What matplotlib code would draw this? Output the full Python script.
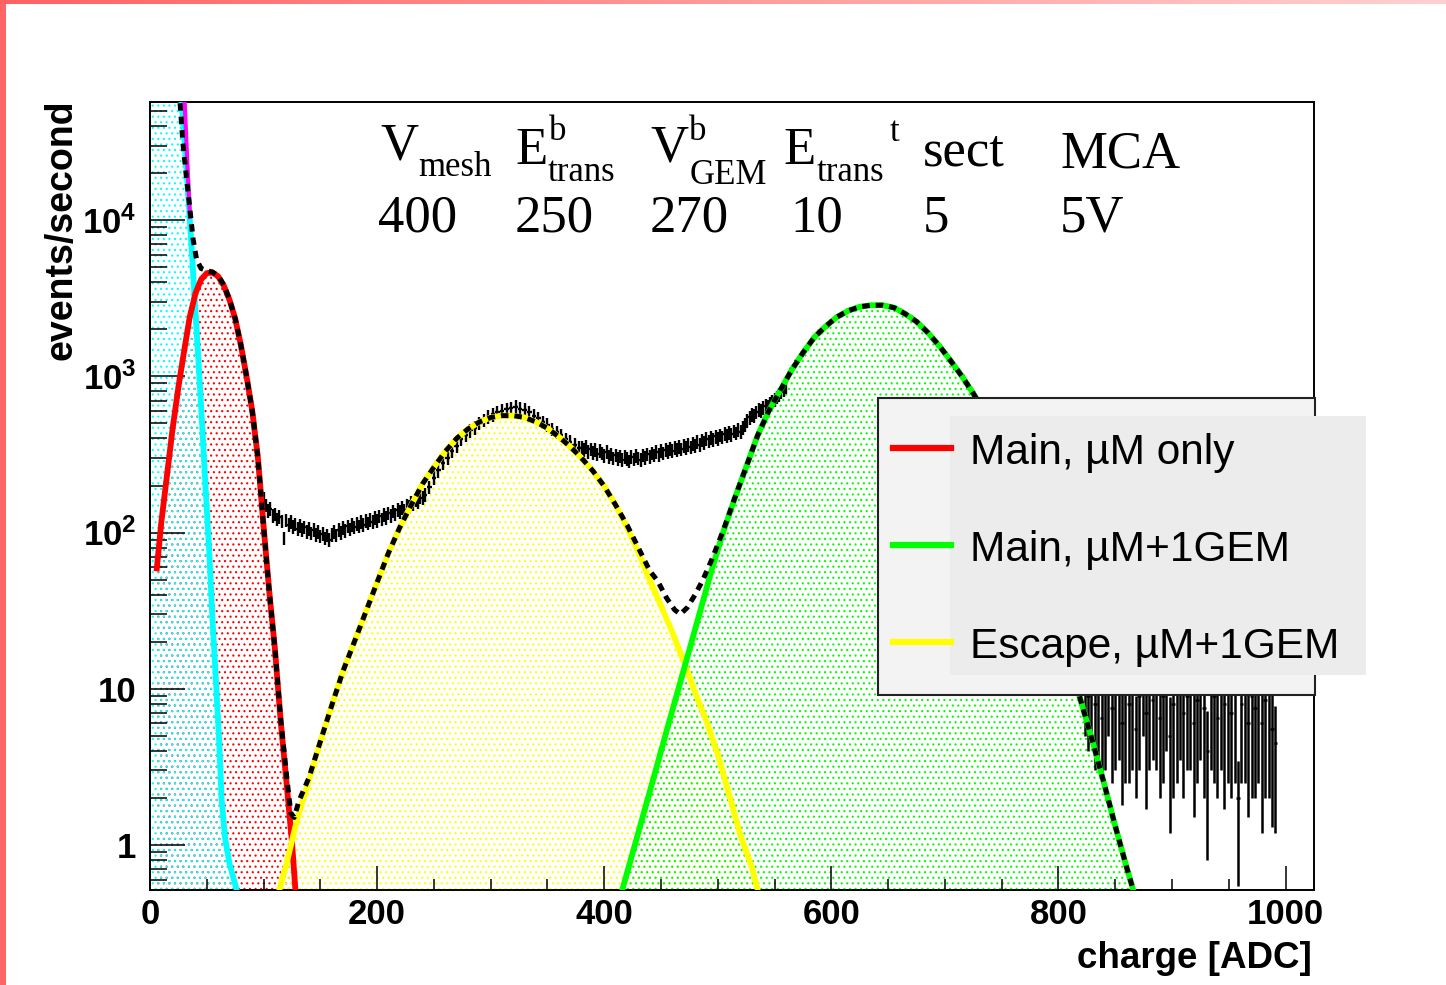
import numpy as np
import matplotlib
matplotlib.use("Agg")
import matplotlib.pyplot as plt
from matplotlib.patches import Rectangle
from matplotlib.lines import Line2D
from matplotlib.ticker import MultipleLocator, LogLocator, NullFormatter
from matplotlib.colors import LinearSegmentedColormap

plt.rcParams["font.family"] = ["Liberation Sans", "DejaVu Sans"]
plt.rcParams["mathtext.fontset"] = "custom"
plt.rcParams["mathtext.bf"] = "Liberation Sans:bold"
plt.rcParams["mathtext.rm"] = "Liberation Sans"
plt.rcParams["hatch.linewidth"] = 0.8

W, H = 1446, 985

# fit components (charge [ADC], events/second)
cyan_x = [0, 10, 20, 28, 31, 34, 37, 40, 43, 46, 49, 52, 55, 58, 61, 63, 66, 70, 76.5]
cyan_y = [2e8, 1e7, 5e5, 53700, 28200, 13200, 6030, 2630, 1150, 479, 190, 80, 28, 11.5, 4.5, 2.0, 1.12, 0.76, 0.51]

mag_x = [30.5, 33, 35.2]
mag_y = [57000, 22000, 10500]

red_x = [6, 10, 15, 20, 25, 30, 35, 40, 45, 50, 55, 60, 65, 70, 75, 80, 85, 90, 95,
         100, 105, 110, 115, 120, 125, 128]
red_y = [59, 117, 234, 468, 851, 1445, 2400, 3390, 4170, 4570, 4620, 4365, 3800, 3090,
         2340, 1585, 1000, 603, 302, 110, 42, 18, 6.3, 2.6, 1.05, 0.52]

yellow_x = [114, 120, 130, 140, 150, 160, 170, 180, 190, 200, 210, 220, 230, 240, 250,
            260, 270, 280, 290, 300, 310, 320, 330, 340, 350, 360, 370, 380, 390, 400,
            410, 420, 430, 440, 450, 460, 470, 480, 490, 500, 510, 520, 530, 535]
yellow_y = [0.52, 0.75, 1.5, 2.6, 4.6, 7.8, 13, 20, 31, 48, 74, 108, 150, 205, 262,
            330, 400, 460, 510, 545, 560, 560, 545, 510, 465, 410, 355, 300, 248, 198,
            150, 108, 75, 50, 34, 23, 15, 9.5, 6.2, 3.8, 2.1, 1.15, 0.72, 0.52]

green_x = [416, 425, 435, 445, 455, 465, 475, 485, 495, 505, 515, 525, 535, 545, 555,
           565, 575, 585, 595, 605, 615, 625, 635, 645, 655, 665, 675, 685, 695, 705,
           715, 725, 735, 745, 760, 780, 800, 819, 830, 840, 850, 860, 866]
green_y = [0.52, 0.89, 1.62, 2.95, 5.4, 9.8, 17.8, 32.4, 58.9, 102, 166, 263, 417, 603,
           813, 1096, 1413, 1778, 2089, 2399, 2630, 2786, 2851, 2851, 2754, 2512, 2239,
           1905, 1567, 1259, 1000, 776, 589, 417, 229, 91, 28, 8.7, 4.6, 2.5, 1.32, 0.72, 0.51]

total_x = [26.5, 29, 32, 35, 38, 41, 45, 50, 55, 60, 65, 70, 75, 80, 85, 90, 95, 100,
           105, 110, 115, 120, 124, 127, 131, 140, 150, 160, 170, 180, 190, 200, 210,
           220, 230, 240, 250, 260, 270, 280, 290, 300, 310, 320, 330, 340, 350, 360,
           370, 380, 390, 400, 410, 420, 430, 440, 447, 455, 462, 467, 473, 480, 487,
           495, 505, 515, 525, 535, 545, 555, 565, 575, 585, 595, 605, 615, 625, 635,
           645, 655, 665, 675, 685, 695, 705, 715, 725, 735, 745, 760, 780, 800, 819,
           830, 840, 850, 860, 866]
total_y = [56000, 31000, 19000, 12000, 7500, 5600, 4900, 4750, 4650, 4400, 3850, 3100,
           2350, 1590, 1000, 605, 303, 110, 42, 18, 6.5, 2.9, 1.6, 1.5, 1.9, 2.7, 4.6,
           7.8, 13, 20, 31, 48, 74, 108, 150, 205, 262, 330, 400, 460, 510, 545, 560,
           560, 545, 510, 465, 410, 355, 300, 248, 198, 150, 112, 80, 57, 49, 38, 32,
           30, 33, 40, 50, 68, 104, 167, 263, 417, 603, 813, 1096, 1413, 1778, 2089,
           2399, 2630, 2786, 2851, 2851, 2754, 2512, 2239, 1905, 1567, 1259, 1000, 776,
           589, 417, 229, 91, 28, 8.7, 4.6, 2.5, 1.32, 0.72, 0.51]

# measured spectrum (data points with errors)
valley_x = np.arange(100, 242, 2)
valley_y = [165, 150, 138, 142, 128, 131, 122, 126, 118, 92, 120, 112, 117, 109, 113,
            106, 111, 104, 108, 101, 106, 99, 104, 97, 101, 95, 98, 92, 96, 90, 97, 101,
            96, 104, 100, 107, 103, 110, 105, 112, 108, 114, 110, 117, 112, 119, 115,
            121, 117, 124, 119, 127, 122, 130, 125, 133, 128, 137, 131, 140, 136, 144,
            139, 149, 146, 155, 152, 162, 158, 170, 167]

esc_x = np.arange(242, 380, 4)
esc_y = [175, 195, 225, 250, 280, 300, 335, 360, 395, 420, 450, 470, 500, 525, 550, 570,
         590, 600, 615, 625, 640, 620, 610, 590, 560, 540, 510, 490, 460, 440, 420, 395,
         380, 365, 350]

mid_x = np.arange(380, 562, 2)
mid_y = [350, 338, 355, 330, 342, 325, 340, 318, 333, 322, 310, 328, 305, 318, 300, 312,
         296, 308, 292, 305, 298, 287, 306, 295, 310, 300, 292, 312, 302, 318, 306, 322,
         312, 328, 316, 335, 322, 340, 328, 345, 333, 350, 338, 355, 342, 360, 348, 365,
         352, 372, 360, 380, 366, 390, 375, 398, 384, 405, 392, 412, 400, 420, 408, 428,
         416, 436, 425, 445, 432, 455, 442, 470, 490, 520, 545, 570, 560, 590, 610, 600,
         630, 650, 640, 670, 690, 710, 735, 760, 790, 820, 850]

peak_x = np.arange(565, 735, 5)
peak_y = [1110, 1260, 1400, 1590, 1760, 1950, 2080, 2260, 2400, 2520, 2640, 2700, 2790,
          2820, 2860, 2840, 2870, 2800, 2760, 2650, 2510, 2380, 2230, 2070, 1900, 1740,
          1560, 1420, 1260, 1120, 1000, 890, 780, 680]

tail_x = np.arange(823, 992, 3)
tail_y = [12, 9, 14, 8, 11, 6.5, 10, 13, 7.5, 9.5, 12, 6, 10, 8, 11, 5.5, 9, 13, 7, 10.5,
          8.5, 12, 6.5, 9, 11, 5, 8, 10, 13, 7, 9, 11.5, 6, 8.5, 10, 7.5, 4, 12, 9, 6.5,
          10, 8, 11, 7, 9.5, 2.0, 8, 10.5, 6, 9, 7.5, 12, 6, 8.5, 10, 5.5, 4.5]
tail_err = [7, 5, 9, 5, 7.5, 4, 7, 8, 5, 6.5, 8.5, 4.2, 7.5, 5.5, 8, 3.5, 6, 8, 5.3, 7.5,
            5, 9, 4.5, 6.5, 7, 3.8, 6, 7.5, 9.5, 5, 6, 8.5, 4.5, 6, 6.5, 5.5, 3.2, 9, 6.5,
            4.5, 7, 6.3, 8.5, 5, 7, 1.45, 5.5, 8, 4.5, 7, 5.5, 9.5, 4.8, 6.5, 8, 4.2, 3.3]
rel_err = 0.1
peak_rel_err = 0.03

legend_labels = ["Main, \u00b5M only", "Main, \u00b5M+1GEM", "Escape, \u00b5M+1GEM"]
legend_colors = ["#ff0000", "#00ff00", "#ffff00"]

fig = plt.figure(figsize=(W / 100, H / 100), dpi=100)
fig.patch.set_facecolor("white")
ax = fig.add_axes([150 / W, 1 - 890 / H, (1314 - 150) / W, (890 - 102) / H])
ax.set_yscale("log")
ax.set_xlim(0, 1025)
ax.set_ylim(0.515, 5.7e4)

# dotted fills (ROOT fill style 3001)
fills = [(red_x, red_y, "#ff0000"), (cyan_x, cyan_y, "#00ffff"),
         (yellow_x, yellow_y, "#ffff00"), (green_x, green_y, "#00ff00")]
for fx, fy, c in fills:
    ax.fill_between(fx, fy, 1e-3, facecolor="none", edgecolor=c, hatch="...",
                    linewidth=0, zorder=1)

# data
for dx, dy, hw, re in [(valley_x, valley_y, 1, rel_err), (esc_x, esc_y, 2, rel_err),
                       (mid_x, mid_y, 1, rel_err), (peak_x, peak_y, 2.5, peak_rel_err)]:
    dy = np.array(dy)
    ax.errorbar(dx, dy, xerr=hw, yerr=dy * re, fmt="none", ecolor="black",
                elinewidth=1.7, zorder=3)
ax.errorbar(tail_x, tail_y, xerr=1.5, yerr=tail_err, fmt="none", ecolor="black",
            elinewidth=1.8, zorder=3)

# fit curves
ax.plot(cyan_x, cyan_y, color="#00ffff", lw=4.2, zorder=4)
ax.plot(red_x, red_y, color="#ff0000", lw=4.2, zorder=4)
ax.plot(yellow_x, yellow_y, color="#ffff00", lw=4.2, zorder=4)
ax.plot(green_x, green_y, color="#00ff00", lw=4.2, zorder=4)
ax.plot(mag_x, mag_y, color="#ff00ff", lw=3.0, zorder=4)
ax.plot(total_x, total_y, color="black", lw=3.6, linestyle=(0, (1.5, 1.2)), zorder=6)

# axes style
for s in ax.spines.values():
    s.set_linewidth(1.4)
ax.xaxis.set_major_locator(MultipleLocator(200))
ax.xaxis.set_minor_locator(MultipleLocator(50))
ax.yaxis.set_minor_locator(LogLocator(base=10, subs=np.arange(2, 10)))
ax.yaxis.set_minor_formatter(NullFormatter())
ax.set_yticks([1, 10, 100, 1000, 10000])
ax.set_yticklabels(["1", "10", r"$\mathbf{10^{2}}$", r"$\mathbf{10^{3}}$", r"$\mathbf{10^{4}}$"])
ax.tick_params(which="both", direction="in", top=False, right=False, width=1.1)
ax.tick_params(axis="x", which="major", length=17, pad=6, labelsize=25)
ax.tick_params(axis="x", which="minor", length=8)
ax.tick_params(axis="y", which="major", length=25, pad=10, labelsize=25)
ax.tick_params(axis="y", which="minor", length=12.5)
for lab in ax.get_xticklabels() + ax.get_yticklabels():
    lab.set_fontweight("bold")

fig.text(62 / W, 1 - 100 / H, "events/second", rotation=90, ha="center", va="top",
         fontsize=27, fontweight="bold")
fig.text(1312 / W, 1 - 968 / H, "charge [ADC]", ha="right", va="baseline",
         fontsize=26.5, fontweight="bold")

# parameter header
serif = "Liberation Serif"
header = [("V", 380, 160, 38), ("mesh", 418, 176, 25),
          ("E", 515, 164, 38), ("b", 549, 140, 25), ("trans", 548, 181, 25),
          ("V", 650, 162, 38), ("b", 689, 140, 25), ("GEM", 690, 184, 25),
          ("E", 783, 164, 38), ("trans", 817, 181, 25), ("t", 890, 141, 25),
          ("sect", 923, 165, 38), ("MCA", 1060, 167, 38),
          ("400", 378, 231, 38), ("250", 515, 231, 38), ("270", 650, 231, 38),
          ("10", 790, 231, 38), ("5", 923, 231, 38), ("5V", 1060, 231, 38)]
for s, px, py, fs in header:
    fig.text(px / W, 1 - py / H, s, family=serif, fontsize=fs, ha="left", va="baseline")

# legend box
fig.add_artist(Rectangle((878 / W, 1 - 695 / H), (1315 - 878) / W, (695 - 398) / H,
                         transform=fig.transFigure, facecolor="#f3f3f3",
                         edgecolor="#222222", lw=1.5, zorder=10))
fig.add_artist(Rectangle((950 / W, 1 - 675 / H), (1366 - 950) / W, (675 - 416) / H,
                         transform=fig.transFigure, facecolor="#ececec",
                         edgecolor="none", zorder=11))
for i, (lab, c) in enumerate(zip(legend_labels, legend_colors)):
    yl = 448 + i * 97
    fig.add_artist(Line2D([893 / W, 951 / W], [1 - yl / H, 1 - yl / H],
                          transform=fig.transFigure, color=c, lw=4.5, zorder=12))
    fig.text(970 / W, 1 - (yl + 16) / H, lab, fontsize=30.5, ha="left",
             va="baseline", zorder=12)

# slide border
fig.add_artist(Rectangle((0, 0), 6 / W, 1, transform=fig.transFigure,
                         facecolor="#ff6666", edgecolor="none", zorder=20))
bar = fig.add_axes([0, 1 - 4 / H, 1, 4 / H], zorder=20)
cmap = LinearSegmentedColormap.from_list("edge", ["#ff6262", "#ff9a9a", "#ffd0d0"])
bar.imshow(np.linspace(0, 1, 256)[None, :], aspect="auto", cmap=cmap)
bar.axis("off")

fig.savefig("out.png", dpi=100)
